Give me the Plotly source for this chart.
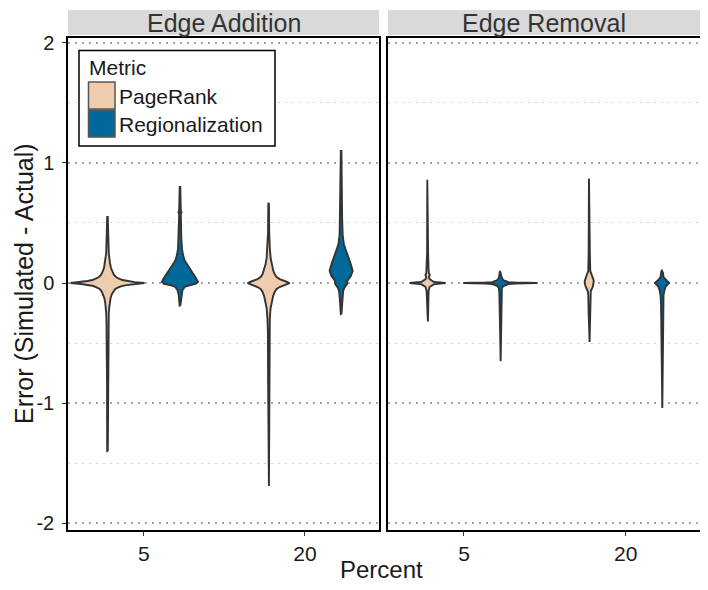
import plotly.graph_objects as go

# ---------------- data ----------------
facets = ["Edge Addition", "Edge Removal"]
percents = ["5", "20"]
metrics = ["PageRank", "Regionalization"]

# Violin profiles: error values (y) and relative density (d)
ea_pr5_y = [-1.40, -0.833, -0.5, -0.333, -0.25, -0.208, -0.167, -0.125, -0.092, -0.067,
            -0.05, -0.038, -0.025, -0.017, -0.008, 0.0, 0.008, 0.017, 0.025, 0.038,
            0.05, 0.067, 0.092, 0.125, 0.167, 0.208, 0.25, 0.333, 0.5, 0.55]
ea_pr5_d = [0.3, 0.45, 0.65, 1.0, 1.3, 1.7, 2.2, 3.1, 4.4, 6.0,
            7.8, 10.4, 14, 19, 26, 37, 27, 20, 15, 11,
            8.5, 6.5, 5, 3.5, 2.5, 1.8, 1.3, 1.0, 0.6, 0.3]

ea_rg5_y = [-0.19, -0.10, -0.058, -0.03, -0.017, -0.006, 0.01, 0.035, 0.06, 0.085,
            0.12, 0.15, 0.19, 0.235, 0.285, 0.38, 0.5, 0.575, 0.59, 0.605, 0.80]
ea_rg5_d = [0.3, 1.3, 2.5, 5, 10, 16, 18, 16.5, 14.5, 12.5,
            10, 7.5, 4.5, 3, 2, 1.3, 1.0, 0.8, 1.6, 0.8, 0.3]

ea_pr20_y = [-1.69, -0.833, -0.417, -0.292, -0.208, -0.158, -0.108, -0.075, -0.05, -0.033,
             -0.017, 0.0, 0.017, 0.033, 0.05, 0.075, 0.108, 0.158, 0.208, 0.292, 0.417, 0.66]
ea_pr20_d = [0.3, 0.5, 0.7, 1.2, 2, 3, 4.5, 6, 8, 11,
             16, 21, 16, 11, 8, 6, 4.5, 3, 2, 1.2, 0.6, 0.3]

ea_rg20_y = [-0.26, -0.167, -0.1, -0.067, -0.039, -0.008, 0.008, 0.025, 0.058, 0.1,
             0.156, 0.208, 0.267, 0.322, 0.406, 0.542, 0.75, 1.10]
ea_rg20_d = [0.3, 1.0, 1.5, 2, 3.3, 6, 5.8, 6.7, 9.7, 11.5,
             9.7, 7.8, 5, 2.7, 1.5, 1.0, 0.8, 0.3]

er_pr5_y = [-0.32, -0.167, -0.067, -0.033, -0.021, -0.011, -0.006, 0.0, 0.006, 0.011,
            0.021, 0.033, 0.05, 0.067, 0.083, 0.117, 0.25, 0.86]
er_pr5_d = [0.3, 0.6, 1.0, 2, 4, 6, 10, 17.8, 10, 6,
            4, 2, 1.3, 2.2, 1.3, 0.9, 0.5, 0.3]

er_rg5_y = [-0.65, -0.25, -0.083, -0.042, -0.025, -0.017, -0.008, -0.004, 0.0, 0.004,
            0.008, 0.017, 0.025, 0.042, 0.067, 0.10]
er_rg5_d = [0.3, 0.6, 1.0, 1.5, 3, 5, 8, 15, 37, 15,
            8, 5, 3, 1.5, 1.0, 0.3]

er_pr20_y = [-0.49, -0.25, -0.1, -0.067, -0.033, 0.0, 0.017, 0.033, 0.067, 0.1, 0.25, 0.87]
er_pr20_d = [0.3, 0.6, 1.0, 1.5, 3.5, 4.5, 4.5, 4, 2.5, 1.0, 0.6, 0.3]

er_rg20_y = [-1.04, -0.5, -0.333, -0.167, -0.1, -0.058, -0.033, -0.017, 0.0, 0.017,
             0.033, 0.05, 0.083, 0.11]
er_rg20_d = [0.3, 0.6, 0.8, 1.0, 1.5, 2.5, 3.5, 5, 7, 5,
             3, 1.5, 1.0, 0.3]

violins = [
    ("Edge Addition", "5", "PageRank", ea_pr5_y, ea_pr5_d),
    ("Edge Addition", "5", "Regionalization", ea_rg5_y, ea_rg5_d),
    ("Edge Addition", "20", "PageRank", ea_pr20_y, ea_pr20_d),
    ("Edge Addition", "20", "Regionalization", ea_rg20_y, ea_rg20_d),
    ("Edge Removal", "5", "PageRank", er_pr5_y, er_pr5_d),
    ("Edge Removal", "5", "Regionalization", er_rg5_y, er_rg5_d),
    ("Edge Removal", "20", "PageRank", er_pr20_y, er_pr20_d),
    ("Edge Removal", "20", "Regionalization", er_rg20_y, er_rg20_d),
]

y_ticks = [-2, -1, 0, 1, 2]
y_tick_text = ["-2", "-1", "0", "1", "2"]
y_minor = [-1.5, -0.5, 0.5, 1.5]

# ---------------- styling ----------------
colors = {"PageRank": "#F0CCAE", "Regionalization": "#00699A"}
outline = "#333333"
FONT = "Liberation Sans"
DODGE = 0.225
MAXW = 0.23

dmax = max(max(v[4]) for v in violins)

fig = go.Figure()
for facet, pct, metric, ys, ds in violins:
    ax = "x" if facet == facets[0] else "x2"
    c = percents.index(pct) + (-DODGE if metric == metrics[0] else DODGE)
    ws = [d / dmax * MAXW for d in ds]
    xs = [c + w for w in ws] + [c - w for w in reversed(ws)]
    yy = list(ys) + list(reversed(ys))
    xs.append(xs[0]); yy.append(yy[0])
    fig.add_trace(go.Scatter(
        x=xs, y=yy, xaxis=ax, yaxis="y" if ax == "x" else "y2",
        mode="lines", fill="toself", fillcolor=colors[metric],
        line=dict(color=outline, width=1.9), showlegend=False,
        hoverinfo="skip"))

# page body offset of the browser (8px) compensated
OFF = 8
W, H = 708, 590
PL, PT, PW, PH = 68, 38, 632, 492   # plot area in window pixels
L, T = PL - OFF, PT - OFF
R = W - L - PW
B = H - T - PH
d1 = [0, 311 / PW]
d2 = [320 / PW, 1]

def px_x(p):
    return (p - PL) / PW

def px_y(p):
    return 1 - (p - PT) / PH

xcommon = dict(range=[-0.47, 1.46], tickvals=[0, 1], ticktext=percents,
               showline=True, mirror=True, linecolor="black", linewidth=1.5,
               ticks="outside", ticklen=4, tickcolor="#333333", tickwidth=1.2,
               showgrid=False, zeroline=False, automargin=False,
               tickfont=dict(family=FONT, size=21, color="#1a1a1a"))
ycommon = dict(range=[-2.056, 2.04], tickvals=y_ticks, ticktext=y_tick_text,
               showline=True, mirror=True, linecolor="black", linewidth=1.5,
               showgrid=True, gridcolor="#a8a8a8", gridwidth=1.6, griddash="2px,5px",
               zeroline=False, automargin=False,
               minor=dict(tickvals=y_minor, showgrid=True, gridcolor="#d0d0d0",
                          gridwidth=1, griddash="2px,5px", ticks=""),
               tickfont=dict(family=FONT, size=20, color="#1a1a1a"))

fig.update_layout(
    width=W, height=H,
    margin=dict(l=L, r=R, t=T, b=B, autoexpand=False),
    paper_bgcolor="white", plot_bgcolor="white",
    showlegend=False,
    xaxis=dict(domain=d1, anchor="y", **xcommon),
    xaxis2=dict(domain=d2, anchor="y2", **xcommon),
    yaxis=dict(domain=[0, 1], anchor="x", ticks="outside", ticklen=4,
               tickcolor="#333333", tickwidth=1.2, ticklabelstandoff=4, **ycommon),
    yaxis2=dict(domain=[0, 1], anchor="x2", matches="y", ticks="",
                showticklabels=False, **ycommon),
)

shapes = []
annotations = []
# facet strips
for dom, name in zip([d1, d2], facets):
    shapes.append(dict(type="rect", xref="paper", yref="paper",
                       x0=dom[0], x1=dom[1], y0=px_y(35), y1=px_y(10),
                       fillcolor="#d9d9d9", line=dict(width=0), layer="below"))
    annotations.append(dict(text=name, xref="paper", yref="paper",
                            x=(dom[0] + dom[1]) / 2, y=px_y(22.5),
                            xanchor="center", yanchor="middle", showarrow=False,
                            font=dict(family=FONT, size=25, color="#333333")))

# legend box (drawn)
shapes.append(dict(type="rect", xref="paper", yref="paper",
                   x0=px_x(79), x1=px_x(275), y0=px_y(146), y1=px_y(50.5),
                   fillcolor="white", line=dict(color="black", width=1.5)))
annotations.append(dict(text="Metric", xref="paper", yref="paper",
                        x=px_x(87), y=px_y(67), xanchor="left", yanchor="middle",
                        showarrow=False, font=dict(family=FONT, size=21, color="#1a1a1a")))
for i, m in enumerate(metrics):
    top = 82 + i * 28
    shapes.append(dict(type="rect", xref="paper", yref="paper",
                       x0=px_x(88.5), x1=px_x(115), y0=px_y(top + 27), y1=px_y(top),
                       fillcolor=colors[m], line=dict(color="#555555", width=1.5)))
    annotations.append(dict(text=m, xref="paper", yref="paper",
                            x=px_x(117), y=px_y(top + 14), xanchor="left", yanchor="middle",
                            showarrow=False, font=dict(family=FONT, size=21, color="#1a1a1a")))

# axis titles
annotations.append(dict(text="Percent", xref="paper", yref="paper",
                        x=px_x(381), y=px_y(569), xanchor="center", yanchor="middle",
                        showarrow=False, font=dict(family=FONT, size=24, color="#1a1a1a")))
annotations.append(dict(text="Error (Simulated - Actual)", xref="paper", yref="paper",
                        x=px_x(24), y=px_y(284), xanchor="center", yanchor="middle",
                        textangle=-90, showarrow=False, borderpad=0,
                        font=dict(family=FONT, size=25, color="#1a1a1a")))

fig.update_layout(shapes=shapes, annotations=annotations)
fig.write_html("out.html")
